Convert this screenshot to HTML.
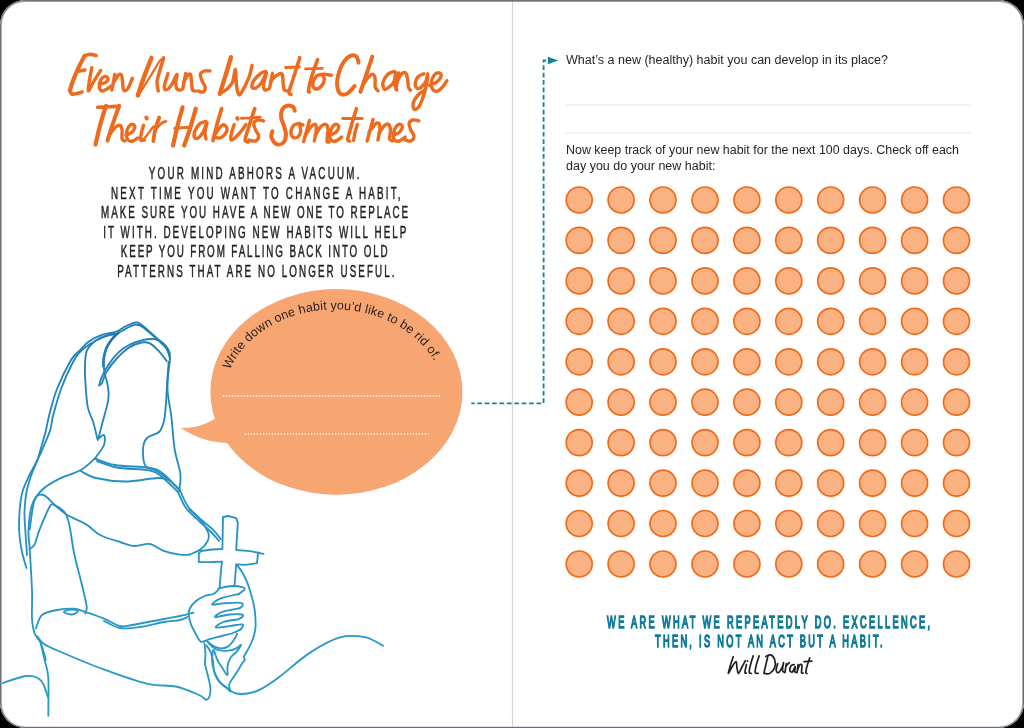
<!DOCTYPE html>
<html><head><meta charset="utf-8">
<style>
html,body{margin:0;padding:0;background:#000;width:1024px;height:728px;overflow:hidden}
#pg{position:absolute;left:0;top:0;width:1024px;height:728px;border-radius:25px;background:#fff;overflow:hidden}
#bd{position:absolute;left:0;top:0;width:1024px;height:728px;border-radius:25px;box-sizing:border-box;border:1px solid #707378;border-right-color:#6e6b73;border-bottom-color:#6e6a72;box-shadow:inset 0 1px 0 0 #9c9ea1,inset 1px 0 0 0 #b9aab7,inset -1px 0 0 0 #b3aab3,inset 0 -1px 0 0 #e2d9e2}
svg{position:absolute;left:0;top:0;will-change:transform}
text{font-family:"Liberation Sans",sans-serif}
</style></head><body>
<div id="pg">
<svg width="1024" height="728" viewBox="0 0 1024 728">
<!-- spine -->
<line x1="512.5" y1="1" x2="512.5" y2="727" stroke="#d6d6d6" stroke-width="1.2"/>

<!-- TITLE -->
<g id="title" fill="none" stroke="#ee6b1e" stroke-linecap="round" stroke-linejoin="round">
<path d="M96.2 55.4 C95.1 55.2 91.4 54.3 89.4 54.4 C87.5 54.5 85.3 55.6 84.5 55.9" stroke-width="3.6"/>
<path d="M84.5 55.9 C83.5 57.8 80.5 63.4 78.6 67.6 C76.6 71.8 74.2 77.5 72.8 81.3 C71.3 85.1 70.4 89.0 69.9 90.5" stroke-width="4.2"/>
<path d="M69.9 91.0 C70.2 91.5 70.7 93.6 71.8 94.0 C72.9 94.4 75.0 93.8 76.7 93.5 C78.4 93.2 81.1 92.2 82.0 92.0" stroke-width="3.6"/>
<path d="M79.6 71.2 L85.0 70.0" stroke-width="3.4"/>
<path d="M91.8 67.6 C91.4 69.7 90.1 76.1 89.5 80.0 C88.9 83.9 87.7 90.8 88.4 91.0 C89.2 91.2 92.0 84.4 94.0 81.0 C96.0 77.6 99.5 72.2 100.6 70.5" stroke-width="3.4"/>
<path d="M100.1 84.2 C101.1 83.9 104.7 83.2 106.0 82.2 C107.3 81.2 108.2 79.3 108.0 78.3 C107.8 77.3 106.2 76.2 105.0 76.4 C103.8 76.6 102.1 77.5 101.1 79.3 C100.1 81.1 99.0 85.1 99.2 87.1 C99.4 89.0 100.8 90.7 102.1 91.0 C103.4 91.3 105.5 89.8 107.0 89.0 C108.5 88.2 110.2 86.6 110.9 86.1" stroke-width="3.4"/>
<path d="M114.8 74.4 L111.9 90.0" stroke-width="3.4"/>
<path d="M113.8 82.2 C114.6 81.0 117.4 75.9 118.7 74.8 C120.0 73.7 120.9 74.2 121.6 75.4 C122.2 76.6 122.3 79.8 122.6 82.2 C122.9 84.6 122.8 88.9 123.6 90.0 C124.4 91.1 126.0 91.0 127.5 89.0 C129.0 87.0 131.6 80.1 132.4 78.3" stroke-width="3.4"/>
<path d="M151.5 57.8 C150.2 61.0 146.3 70.7 144.0 77.0 C141.7 83.3 138.8 92.4 137.8 95.5" stroke-width="4.4"/>
<path d="M140.0 93.0 C141.7 90.3 146.8 82.2 150.0 77.0 C153.2 71.8 157.0 65.0 159.0 62.0 C161.0 59.0 161.5 59.3 162.0 58.8" stroke-width="2.2"/>
<path d="M163.7 57.8 C163.1 59.8 161.1 65.9 160.0 70.0 C158.9 74.1 157.3 78.7 157.0 82.2 C156.7 85.7 158.1 89.5 158.3 91.0" stroke-width="3.4"/>
<path d="M168.0 73.4 C167.4 75.7 164.3 84.4 164.2 87.1 C164.0 89.8 165.8 90.0 167.1 89.5 C168.4 89.0 170.4 86.7 172.0 84.2 C173.6 81.7 176.2 74.7 176.9 74.4 C177.6 74.1 175.9 79.8 175.9 82.2 C175.9 84.6 176.1 87.7 176.9 89.0 C177.7 90.3 180.2 89.8 180.8 90.0" stroke-width="3.4"/>
<path d="M185.7 73.4 L182.7 89.0" stroke-width="3.4"/>
<path d="M183.7 82.2 C184.3 81.1 186.5 76.7 187.6 75.4 C188.7 74.1 189.8 73.4 190.5 74.4 C191.2 75.4 191.2 78.7 191.5 81.3 C191.8 83.9 191.8 88.4 192.5 90.0 C193.2 91.6 194.9 90.8 195.4 91.0" stroke-width="3.4"/>
<path d="M210.0 71.0 C209.0 71.0 205.8 70.4 204.2 71.0 C202.6 71.6 200.6 72.7 200.3 74.4 C200.0 76.1 201.5 79.2 202.3 81.3 C203.1 83.4 205.0 85.3 205.2 87.1 C205.3 88.9 204.3 91.3 203.2 92.0 C202.1 92.7 199.2 91.2 198.4 91.0" stroke-width="3.4"/>
<path d="M231.0 57.2 C230.2 60.0 227.9 67.9 226.0 74.0 C224.1 80.1 220.8 90.5 219.8 93.8" stroke-width="4.4"/>
<path d="M221.0 93.0 C222.0 92.3 225.1 90.8 227.0 89.0 C228.9 87.2 231.1 85.4 232.5 82.1 C233.9 78.8 234.8 69.1 235.4 69.4 C236.1 69.7 235.9 79.9 236.4 84.0 C236.9 88.1 237.5 92.3 238.3 93.8 C239.1 95.3 239.5 95.7 241.3 92.9 C243.1 90.1 247.2 81.8 249.0 77.2 C250.8 72.6 251.5 67.5 252.0 65.5" stroke-width="3.4"/>
<path d="M265.7 71.4 C264.9 71.7 262.8 71.8 260.8 73.3 C258.9 74.8 255.5 77.9 254.0 80.2 C252.5 82.5 251.7 85.7 252.0 87.0 C252.3 88.3 254.3 88.8 255.9 88.0 C257.5 87.2 260.0 84.7 261.8 82.1 C263.6 79.5 266.3 72.0 266.6 72.3 C266.9 72.6 264.0 81.0 263.7 84.0 C263.4 87.0 263.9 89.2 264.7 90.0 C265.5 90.8 268.0 89.2 268.6 89.0" stroke-width="3.4"/>
<path d="M272.5 73.3 L269.6 88.0" stroke-width="3.4"/>
<path d="M270.5 82.0 C271.0 81.3 272.2 79.3 273.5 78.0 C274.8 76.7 276.9 74.9 278.4 74.3 C279.9 73.7 281.5 72.7 282.3 74.3 C283.1 75.9 282.9 81.4 283.2 84.0 C283.5 86.6 283.4 88.8 284.2 89.9 C285.0 91.1 287.5 90.7 288.1 90.9" stroke-width="3.4"/>
<path d="M299.8 57.7 C298.7 61.3 294.8 73.5 293.0 79.2 C291.2 84.9 289.3 89.5 289.0 92.0 C288.7 94.5 290.7 94.1 291.0 94.5" stroke-width="3.6"/>
<path d="M285.5 67.5 L299.5 67.0" stroke-width="2.8"/>
<path d="M317.6 59.6 C316.6 62.4 313.2 71.2 311.7 76.3 C310.2 81.4 308.9 87.4 308.5 90.0 C308.1 92.6 309.3 91.7 309.5 92.0" stroke-width="3.6"/>
<path d="M305.5 68.9 L322.5 68.4" stroke-width="2.8"/>
<path d="M322.5 74.3 C321.5 74.6 318.2 74.4 316.6 76.0 C315.0 77.6 312.9 81.9 312.7 84.1 C312.5 86.3 314.1 88.7 315.6 89.0 C317.1 89.3 320.0 87.6 321.5 86.0 C323.0 84.4 324.2 81.2 324.4 79.2 C324.6 77.2 321.4 75.0 322.5 74.3 C323.6 73.6 329.8 75.1 331.3 75.3" stroke-width="3.4"/>
<path d="M358.6 62.6 C358.3 61.6 357.9 57.9 356.6 56.7 C355.3 55.6 352.9 54.9 350.8 55.7 C348.7 56.5 345.9 58.8 343.9 61.6 C341.9 64.4 340.1 68.5 339.0 72.3 C337.9 76.0 336.9 80.6 337.1 84.1 C337.3 87.6 338.4 91.7 340.0 93.3 C341.6 94.9 344.4 95.0 346.9 93.8 C349.3 92.6 353.4 87.3 354.7 86.0" stroke-width="4.0"/>
<path d="M372.3 56.7 C371.3 59.6 368.4 68.4 366.4 74.3 C364.4 80.2 361.5 89.0 360.5 91.9" stroke-width="4.0"/>
<path d="M363.5 84.1 C364.3 82.9 366.8 78.8 368.4 77.2 C370.0 75.6 372.1 74.0 373.2 74.3 C374.3 74.6 374.9 77.1 375.2 79.2 C375.5 81.3 374.7 85.0 375.2 87.0 C375.7 89.0 377.6 90.2 378.1 90.9" stroke-width="3.4"/>
<path d="M393.8 71.4 C392.8 71.9 389.7 72.5 387.9 74.3 C386.1 76.1 383.6 79.6 383.0 82.1 C382.4 84.5 383.2 88.0 384.0 89.0 C384.8 90.0 386.3 89.2 387.9 88.0 C389.5 86.8 392.5 84.7 393.8 82.1 C395.1 79.5 395.6 72.0 395.7 72.3 C395.8 72.6 394.5 81.2 394.7 84.1 C394.9 87.0 396.4 88.9 396.7 89.9" stroke-width="3.4"/>
<path d="M398.8 72.9 L396.0 89.2" stroke-width="3.4"/>
<path d="M396.9 81.5 C397.7 80.2 400.2 75.2 401.7 73.8 C403.1 72.4 404.6 72.1 405.6 72.9 C406.6 73.7 407.0 76.3 407.5 78.7 C408.0 81.1 408.0 85.4 408.5 87.3 C409.0 89.2 410.1 89.7 410.4 90.2" stroke-width="3.4"/>
<path d="M423.8 73.8 C422.9 74.3 419.5 75.1 418.1 76.7 C416.7 78.3 415.4 81.6 415.2 83.5 C415.0 85.4 416.1 87.7 417.1 88.3 C418.1 88.9 419.6 88.4 421.0 87.3 C422.4 86.2 424.7 83.8 425.8 81.5 C426.9 79.2 427.6 73.5 427.7 73.8 C427.8 74.1 427.3 80.0 426.7 83.5 C426.1 87.0 425.1 91.2 423.8 95.0 C422.5 98.8 420.6 104.1 419.0 106.5 C417.4 108.9 415.1 110.0 414.2 109.4 C413.2 108.8 412.6 105.1 413.3 102.7 C414.0 100.3 416.2 97.1 418.1 95.0 C420.0 92.9 423.7 91.0 424.8 90.2" stroke-width="3.4"/>
<path d="M429.6 85.4 C430.9 84.8 435.4 83.1 437.3 81.5 C439.2 79.9 440.9 77.2 441.2 75.8 C441.5 74.4 440.3 73.1 439.2 72.9 C438.1 72.7 435.7 73.4 434.4 74.8 C433.1 76.2 431.8 79.1 431.5 81.5 C431.2 83.9 431.5 87.6 432.5 89.2 C433.5 90.8 435.5 91.7 437.3 91.2 C439.1 90.7 441.5 88.1 443.1 86.3 C444.7 84.5 446.3 81.5 446.9 80.6" stroke-width="3.4"/>
<path d="M97.7 107.3 C99.7 107.2 105.8 107.0 109.4 106.8 C113.0 106.6 117.6 106.4 119.2 106.3" stroke-width="3.6"/>
<path d="M106.0 105.8 C105.1 108.7 102.3 117.0 100.6 123.4 C98.8 129.8 96.3 141.0 95.5 144.5" stroke-width="4.2"/>
<path d="M119.2 105.8 C118.2 108.6 115.2 116.6 113.3 122.4 C111.3 128.2 108.5 137.5 107.5 140.5" stroke-width="4.0"/>
<path d="M109.4 135.1 C110.4 133.8 113.5 128.9 115.3 127.3 C117.1 125.7 119.1 124.8 120.2 125.3 C121.3 125.8 121.8 127.9 122.1 130.2 C122.4 132.5 121.6 137.2 122.1 139.0 C122.6 140.8 124.5 140.7 125.0 141.0" stroke-width="3.4"/>
<path d="M126.0 135.1 C127.0 134.6 130.4 133.5 131.9 132.2 C133.4 130.9 134.6 128.6 134.8 127.3 C135.0 126.0 133.9 124.6 132.9 124.4 C131.9 124.2 130.1 124.8 129.0 126.3 C127.9 127.8 126.7 130.9 126.5 133.2 C126.3 135.5 126.9 138.7 128.0 140.0 C129.1 141.3 131.3 141.3 132.9 141.0 C134.5 140.7 136.9 138.5 137.7 138.0" stroke-width="3.4"/>
<path d="M143.6 125.3 C143.3 126.4 142.1 129.8 141.6 132.2 C141.1 134.6 140.2 138.7 140.7 140.0 C141.2 141.3 143.9 140.0 144.6 140.0" stroke-width="3.4"/>
<path d="M146.3 117.6 L146.7 118.4" stroke-width="4.0"/>
<path d="M142.5 140.0 C143.1 139.4 144.8 138.0 146.0 136.5 C147.2 135.0 148.8 132.7 150.0 131.0 C151.2 129.3 152.9 127.2 153.5 126.5" stroke-width="2.4"/>
<path d="M159.2 117.5 C158.5 119.5 156.3 125.4 155.3 129.3 C154.3 133.2 153.7 139.1 153.4 141.0" stroke-width="3.8"/>
<path d="M155.3 130.2 C156.3 129.1 159.4 124.9 161.2 123.4 C163.0 121.9 165.2 121.7 166.0 121.4" stroke-width="2.6"/>
<path d="M182.6 107.3 C181.8 110.3 179.3 118.9 177.7 125.3 C176.1 131.7 173.8 142.1 173.0 145.5" stroke-width="4.2"/>
<path d="M195.8 108.7 C194.9 111.8 192.3 121.2 190.4 127.3 C188.5 133.4 185.2 142.5 184.2 145.5" stroke-width="4.2"/>
<path d="M174.8 128.3 L189.4 127.3" stroke-width="3.0"/>
<path d="M206.0 121.4 C205.0 121.7 202.0 121.9 200.2 123.4 C198.4 124.9 196.3 127.9 195.3 130.2 C194.3 132.5 193.8 135.8 194.3 137.1 C194.8 138.4 196.7 138.8 198.2 138.0 C199.7 137.2 201.6 134.8 203.1 132.2 C204.6 129.6 206.7 122.4 207.0 122.4 C207.3 122.4 205.2 129.4 205.0 132.2 C204.8 135.0 205.8 137.9 206.0 139.0" stroke-width="3.4"/>
<path d="M221.6 108.7 C220.8 111.5 218.2 120.0 216.8 125.3 C215.4 130.6 213.6 138.0 213.0 140.5" stroke-width="3.8"/>
<path d="M215.5 133.8 C216.2 132.8 218.2 129.5 219.5 128.0 C220.8 126.5 222.3 124.7 223.6 124.8 C224.9 124.9 226.9 127.0 227.1 128.6 C227.3 130.2 226.0 132.9 224.8 134.5 C223.6 136.1 221.5 137.5 220.0 138.0 C218.5 138.5 216.6 137.6 215.9 137.5" stroke-width="3.4"/>
<path d="M237.3 118.2 L237.6 118.8" stroke-width="4.0"/>
<path d="M234.2 124.5 C233.8 125.7 232.5 129.2 231.9 131.6 C231.3 134.0 230.6 137.3 230.7 138.7 C230.8 140.1 231.3 140.3 232.4 139.8 C233.5 139.3 235.4 137.6 237.2 135.7 C239.0 133.8 241.6 130.5 243.1 128.6 C244.6 126.7 245.5 125.2 246.0 124.5" stroke-width="3.4"/>
<path d="M254.8 108.7 C253.8 111.6 250.6 121.2 249.0 126.3 C247.4 131.4 245.4 136.9 245.2 139.5 C245.0 142.1 247.5 141.6 248.0 142.0" stroke-width="3.6"/>
<path d="M241.3 118.3 C242.9 118.2 247.8 118.0 251.0 117.8 C254.2 117.6 258.7 117.3 260.2 117.2" stroke-width="2.8"/>
<path d="M263.6 121.0 C262.6 120.8 259.3 119.6 257.7 120.0 C256.1 120.4 254.1 121.7 253.8 123.4 C253.5 125.1 254.9 128.1 255.7 130.2 C256.5 132.3 258.7 134.3 258.7 136.1 C258.7 137.9 257.3 140.3 255.7 141.0 C254.1 141.7 250.0 140.2 248.9 140.0" stroke-width="3.4"/>
<path d="M294.8 110.7 C294.5 110.0 294.2 107.6 292.9 106.8 C291.6 106.0 288.8 105.3 287.0 105.8 C285.2 106.3 283.1 107.8 282.1 109.7 C281.1 111.7 280.8 114.7 281.1 117.5 C281.4 120.3 283.3 123.4 284.1 126.3 C284.9 129.2 286.2 132.3 286.0 135.1 C285.8 137.9 284.7 141.4 283.1 142.9 C281.5 144.4 278.2 144.9 276.3 143.9 C274.4 142.9 272.1 139.2 271.4 137.1 C270.7 135.0 272.1 132.2 272.3 131.2" stroke-width="4.0"/>
<path d="M299.7 123.4 C298.7 123.7 295.3 123.8 293.8 125.3 C292.3 126.8 291.0 130.2 290.9 132.2 C290.8 134.2 291.8 136.3 292.9 137.1 C294.0 137.9 296.4 138.1 297.7 137.1 C299.0 136.1 300.4 133.3 300.7 131.2 C301.0 129.1 299.3 125.4 299.7 124.4 C300.1 123.4 302.4 124.9 303.0 125.0" stroke-width="3.4"/>
<path d="M309.5 120.5 L303.6 141.5" stroke-width="3.4"/>
<path d="M305.5 135.1 C306.5 133.6 309.8 128.1 311.4 126.3 C313.0 124.5 314.5 123.8 315.3 124.4 C316.1 125.1 316.5 127.4 316.3 130.2 C316.1 133.0 314.6 139.2 314.3 141.0" stroke-width="3.4"/>
<path d="M315.3 135.1 C316.3 133.6 319.4 128.1 321.2 126.3 C323.0 124.5 325.0 123.8 326.1 124.4 C327.2 125.1 327.9 127.4 328.0 130.2 C328.1 133.0 326.8 139.0 327.0 141.0 C327.2 143.0 328.7 141.8 329.0 142.0" stroke-width="3.4"/>
<path d="M330.0 135.1 C331.0 134.6 334.3 133.5 335.8 132.2 C337.3 130.9 338.6 128.6 338.8 127.3 C339.0 126.0 337.8 124.6 336.8 124.4 C335.8 124.2 334.0 124.8 332.9 126.3 C331.8 127.8 330.3 130.9 330.0 133.2 C329.7 135.5 330.0 138.7 331.0 140.0 C332.0 141.3 334.0 141.5 335.8 141.0 C337.6 140.5 340.7 137.8 341.7 137.1" stroke-width="3.4"/>
<path d="M356.4 108.7 C355.6 111.5 352.9 120.2 351.5 125.3 C350.1 130.3 348.1 136.4 347.8 139.0 C347.5 141.6 349.2 140.7 349.5 141.0" stroke-width="3.6"/>
<path d="M342.7 118.5 L362.2 118.5" stroke-width="2.8"/>
<path d="M357.3 124.4 C356.9 125.9 355.5 130.5 354.9 133.2 C354.3 135.9 353.8 139.3 353.6 140.5" stroke-width="3.4"/>
<path d="M373.0 119.5 L367.1 141.0" stroke-width="3.4"/>
<path d="M369.0 132.2 C370.0 130.9 373.3 125.9 374.9 124.4 C376.5 122.9 378.0 122.4 378.8 123.4 C379.6 124.4 380.0 127.4 379.8 130.2 C379.6 133.0 378.2 138.4 377.9 140.0" stroke-width="3.4"/>
<path d="M378.8 133.2 C379.8 131.9 383.1 126.8 384.7 125.3 C386.3 123.8 387.6 123.6 388.6 124.4 C389.6 125.2 390.3 127.8 390.5 130.2 C390.7 132.6 389.3 137.2 389.6 139.0 C389.9 140.8 392.0 140.7 392.5 141.0" stroke-width="3.4"/>
<path d="M393.5 135.1 C394.5 134.6 397.8 133.5 399.3 132.2 C400.8 130.9 402.1 128.6 402.3 127.3 C402.5 126.0 401.3 124.6 400.3 124.4 C399.3 124.2 397.5 124.8 396.4 126.3 C395.3 127.8 393.8 130.9 393.5 133.2 C393.2 135.5 393.5 138.7 394.5 140.0 C395.5 141.3 397.5 141.5 399.3 141.0 C401.1 140.5 404.2 137.8 405.2 137.1" stroke-width="3.4"/>
<path d="M418.9 121.0 C417.9 120.8 414.6 119.6 413.0 120.0 C411.4 120.4 409.4 121.7 409.1 123.4 C408.8 125.1 410.2 128.1 411.0 130.2 C411.8 132.3 414.0 134.3 414.0 136.1 C414.0 137.9 412.5 140.3 411.0 141.0 C409.5 141.7 406.2 140.2 405.2 140.0" stroke-width="3.4"/>
</g>

<!-- BODY CAPS -->
<g fill="#231f20" stroke="#231f20" stroke-width="0.42" font-size="16.4" transform="translate(1 -0.5)">
<text vector-effect="non-scaling-stroke" transform="translate(147.8 179.8) scale(0.60 1)" x="0" y="0" textLength="351.0" lengthAdjust="spacing">YOUR MIND ABHORS A VACUUM.</text>
<text vector-effect="non-scaling-stroke" transform="translate(110.0 199.2) scale(0.60 1)" x="0" y="0" textLength="482.7" lengthAdjust="spacing">NEXT TIME YOU WANT TO CHANGE A HABIT,</text>
<text vector-effect="non-scaling-stroke" transform="translate(100.1 218.8) scale(0.60 1)" x="0" y="0" textLength="511.8" lengthAdjust="spacing">MAKE SURE YOU HAVE A NEW ONE TO REPLACE</text>
<text vector-effect="non-scaling-stroke" transform="translate(102.2 238.0) scale(0.60 1)" x="0" y="0" textLength="505.2" lengthAdjust="spacing">IT WITH. DEVELOPING NEW HABITS WILL HELP</text>
<text vector-effect="non-scaling-stroke" transform="translate(119.8 257.6) scale(0.60 1)" x="0" y="0" textLength="444.8" lengthAdjust="spacing">KEEP YOU FROM FALLING BACK INTO OLD</text>
<text vector-effect="non-scaling-stroke" transform="translate(116.2 277.0) scale(0.60 1)" x="0" y="0" textLength="462.2" lengthAdjust="spacing">PATTERNS THAT ARE NO LONGER USEFUL.</text>
</g>

<!-- BUBBLE -->
<g>
<ellipse cx="336.4" cy="391.9" rx="126" ry="102.8" fill="#f7a571"/>
<path d="M216 418 C205 425 195 428 181 428 C196 438 212 443 230 443 Z" fill="#f7a571"/>
<line x1="222.8" y1="396.1" x2="440" y2="396.1" stroke="#fff8f2" stroke-width="1.7" stroke-dasharray="1.3 1.7"/>
<line x1="244.8" y1="434" x2="428.5" y2="434" stroke="#fff8f2" stroke-width="1.7" stroke-dasharray="1.3 1.7"/>
<path id="arc" d="M224.02 392.1 A110.7 90.6 0 0 1 444.58 392.1" fill="none"/>
<text font-size="12.5" fill="#231f20" textLength="244.5" lengthAdjust="spacing"><textPath href="#arc" startOffset="23.2">Write down one habit you’d like to be rid of.</textPath></text>
</g>

<!-- CONNECTOR -->
<path d="M546.2 60.5 H543.6 V403.3 H471.3" stroke="#13809e" stroke-width="1.8" fill="none" stroke-dasharray="4.7 2.7"/>
<path d="M547.8 56.8 L558.2 60.5 L547.8 64.2 Z" fill="#13809e"/>

<!-- RIGHT PAGE TEXT -->
<g fill="#231f20" font-size="12.5">
<text x="566" y="63.8" textLength="322" lengthAdjust="spacingAndGlyphs">What’s a new (healthy) habit you can develop in its place?</text>
<text x="566" y="154.2" textLength="393" lengthAdjust="spacingAndGlyphs">Now keep track of your new habit for the next 100 days. Check off each</text>
<text x="566" y="169.6">day you do your new habit:</text>
</g>
<line x1="566" y1="105" x2="971" y2="105" stroke="#e3e3e3" stroke-width="1"/>
<line x1="566" y1="133" x2="971" y2="133" stroke="#e3e3e3" stroke-width="1"/>

<!-- CIRCLES -->
<g id="circles" fill="#fbb283" stroke="#ef6b1a" stroke-width="1.7">
<circle cx="579.2" cy="200.0" r="13"/><circle cx="621.1" cy="200.0" r="13"/><circle cx="663.0" cy="200.0" r="13"/><circle cx="705.0" cy="200.0" r="13"/><circle cx="746.9" cy="200.0" r="13"/><circle cx="788.8" cy="200.0" r="13"/><circle cx="830.7" cy="200.0" r="13"/><circle cx="872.6" cy="200.0" r="13"/><circle cx="914.6" cy="200.0" r="13"/><circle cx="956.5" cy="200.0" r="13"/>
<circle cx="579.2" cy="240.4" r="13"/><circle cx="621.1" cy="240.4" r="13"/><circle cx="663.0" cy="240.4" r="13"/><circle cx="705.0" cy="240.4" r="13"/><circle cx="746.9" cy="240.4" r="13"/><circle cx="788.8" cy="240.4" r="13"/><circle cx="830.7" cy="240.4" r="13"/><circle cx="872.6" cy="240.4" r="13"/><circle cx="914.6" cy="240.4" r="13"/><circle cx="956.5" cy="240.4" r="13"/>
<circle cx="579.2" cy="280.9" r="13"/><circle cx="621.1" cy="280.9" r="13"/><circle cx="663.0" cy="280.9" r="13"/><circle cx="705.0" cy="280.9" r="13"/><circle cx="746.9" cy="280.9" r="13"/><circle cx="788.8" cy="280.9" r="13"/><circle cx="830.7" cy="280.9" r="13"/><circle cx="872.6" cy="280.9" r="13"/><circle cx="914.6" cy="280.9" r="13"/><circle cx="956.5" cy="280.9" r="13"/>
<circle cx="579.2" cy="321.3" r="13"/><circle cx="621.1" cy="321.3" r="13"/><circle cx="663.0" cy="321.3" r="13"/><circle cx="705.0" cy="321.3" r="13"/><circle cx="746.9" cy="321.3" r="13"/><circle cx="788.8" cy="321.3" r="13"/><circle cx="830.7" cy="321.3" r="13"/><circle cx="872.6" cy="321.3" r="13"/><circle cx="914.6" cy="321.3" r="13"/><circle cx="956.5" cy="321.3" r="13"/>
<circle cx="579.2" cy="361.8" r="13"/><circle cx="621.1" cy="361.8" r="13"/><circle cx="663.0" cy="361.8" r="13"/><circle cx="705.0" cy="361.8" r="13"/><circle cx="746.9" cy="361.8" r="13"/><circle cx="788.8" cy="361.8" r="13"/><circle cx="830.7" cy="361.8" r="13"/><circle cx="872.6" cy="361.8" r="13"/><circle cx="914.6" cy="361.8" r="13"/><circle cx="956.5" cy="361.8" r="13"/>
<circle cx="579.2" cy="402.2" r="13"/><circle cx="621.1" cy="402.2" r="13"/><circle cx="663.0" cy="402.2" r="13"/><circle cx="705.0" cy="402.2" r="13"/><circle cx="746.9" cy="402.2" r="13"/><circle cx="788.8" cy="402.2" r="13"/><circle cx="830.7" cy="402.2" r="13"/><circle cx="872.6" cy="402.2" r="13"/><circle cx="914.6" cy="402.2" r="13"/><circle cx="956.5" cy="402.2" r="13"/>
<circle cx="579.2" cy="442.6" r="13"/><circle cx="621.1" cy="442.6" r="13"/><circle cx="663.0" cy="442.6" r="13"/><circle cx="705.0" cy="442.6" r="13"/><circle cx="746.9" cy="442.6" r="13"/><circle cx="788.8" cy="442.6" r="13"/><circle cx="830.7" cy="442.6" r="13"/><circle cx="872.6" cy="442.6" r="13"/><circle cx="914.6" cy="442.6" r="13"/><circle cx="956.5" cy="442.6" r="13"/>
<circle cx="579.2" cy="483.1" r="13"/><circle cx="621.1" cy="483.1" r="13"/><circle cx="663.0" cy="483.1" r="13"/><circle cx="705.0" cy="483.1" r="13"/><circle cx="746.9" cy="483.1" r="13"/><circle cx="788.8" cy="483.1" r="13"/><circle cx="830.7" cy="483.1" r="13"/><circle cx="872.6" cy="483.1" r="13"/><circle cx="914.6" cy="483.1" r="13"/><circle cx="956.5" cy="483.1" r="13"/>
<circle cx="579.2" cy="523.5" r="13"/><circle cx="621.1" cy="523.5" r="13"/><circle cx="663.0" cy="523.5" r="13"/><circle cx="705.0" cy="523.5" r="13"/><circle cx="746.9" cy="523.5" r="13"/><circle cx="788.8" cy="523.5" r="13"/><circle cx="830.7" cy="523.5" r="13"/><circle cx="872.6" cy="523.5" r="13"/><circle cx="914.6" cy="523.5" r="13"/><circle cx="956.5" cy="523.5" r="13"/>
<circle cx="579.2" cy="564.0" r="13"/><circle cx="621.1" cy="564.0" r="13"/><circle cx="663.0" cy="564.0" r="13"/><circle cx="705.0" cy="564.0" r="13"/><circle cx="746.9" cy="564.0" r="13"/><circle cx="788.8" cy="564.0" r="13"/><circle cx="830.7" cy="564.0" r="13"/><circle cx="872.6" cy="564.0" r="13"/><circle cx="914.6" cy="564.0" r="13"/><circle cx="956.5" cy="564.0" r="13"/>
</g>

<!-- QUOTE -->
<g fill="#117b9a" stroke="#117b9a" stroke-width="1.2" font-size="15.9" font-weight="400" transform="translate(1 2.1)">
<text vector-effect="non-scaling-stroke" transform="translate(606.1 625.6) scale(0.58 1)" x="0" y="0" textLength="556.9" lengthAdjust="spacing">WE ARE WHAT WE REPEATEDLY DO. EXCELLENCE,</text>
<text vector-effect="non-scaling-stroke" transform="translate(654.0 645.2) scale(0.58 1)" x="0" y="0" textLength="392.2" lengthAdjust="spacing">THEN, IS NOT AN ACT BUT A HABIT.</text>
</g>
<g fill="none" stroke="#231f20" stroke-width="1.7" stroke-linecap="round" stroke-linejoin="round">
<path d="M733.2 656.8 C732.8 658.1 731.5 661.8 730.7 664.6 C729.9 667.4 728.1 673.0 728.3 673.4 C728.5 673.8 730.7 669.0 732.0 667.0 C733.3 665.0 735.3 661.5 736.1 661.7 C736.9 661.9 736.6 666.0 737.0 668.0 C737.4 670.0 737.8 673.6 738.6 673.4 C739.4 673.2 740.9 669.1 742.0 667.0 C743.1 664.9 744.8 661.8 745.4 660.7"/>
<path d="M746.4 664.6 C746.1 665.9 744.9 671.1 744.9 672.5 C744.9 673.9 746.1 672.9 746.4 673.0"/>
<path d="M753.2 655.9 C752.7 657.5 750.9 662.8 750.3 665.6 C749.6 668.4 749.1 671.2 749.3 672.5 C749.5 673.8 751.0 673.2 751.3 673.4"/>
<path d="M759.1 655.9 C758.6 657.5 756.8 662.8 756.1 665.6 C755.5 668.4 754.9 671.2 755.2 672.5 C755.5 673.8 757.6 673.2 758.1 673.4"/>
<path d="M767.9 655.9 C767.6 657.4 766.6 661.7 765.9 664.6 C765.2 667.5 764.2 671.9 763.9 673.4"/>
<path d="M765.9 656.5 C766.7 656.2 769.3 654.4 770.8 654.9 C772.3 655.4 774.1 657.7 774.7 659.8 C775.4 661.9 775.5 665.3 774.7 667.6 C773.9 669.9 771.4 672.4 769.8 673.4 C768.2 674.4 765.7 673.4 764.9 673.4"/>
<path d="M777.6 663.7 C777.4 664.8 776.0 669.0 776.2 670.5 C776.4 672.0 777.6 673.1 778.6 672.5 C779.6 671.9 781.7 668.2 782.5 666.6 C783.3 665.0 783.5 662.1 783.5 662.7 C783.5 663.4 782.3 668.9 782.5 670.5 C782.7 672.1 784.2 672.2 784.5 672.5"/>
<path d="M786.4 663.7 L784.9 672.5"/>
<path d="M786.2 665.6 L789.3 662.7"/>
<path d="M794.2 664.6 C793.7 664.8 792.0 664.6 791.3 665.6 C790.6 666.6 789.6 669.4 789.8 670.5 C790.0 671.6 791.4 672.6 792.3 672.0 C793.2 671.4 794.8 666.7 795.2 666.6 C795.6 666.5 794.5 670.5 794.7 671.5 C794.9 672.5 796.0 672.3 796.2 672.5"/>
<path d="M798.1 664.6 L797.1 672.5"/>
<path d="M797.6 669.5 C798.0 668.7 799.4 665.2 800.1 664.6 C800.8 664.0 801.8 664.3 802.0 665.6 C802.2 666.9 801.3 671.3 801.5 672.5 C801.7 673.7 802.8 672.9 803.0 673.0"/>
<path d="M809.8 657.8 C809.3 659.3 807.5 664.1 806.9 666.6 C806.2 669.1 805.9 671.4 805.9 672.5 C805.9 673.6 806.8 673.3 807.0 673.5"/>
<path d="M804.0 661.7 L811.8 661.2"/>
<circle cx="747.5" cy="661" r="0.9" fill="#231f20" stroke="none"/>
</g>

<!-- NUN -->
<defs><linearGradient id="ng" gradientUnits="userSpaceOnUse" x1="0" y1="320" x2="0" y2="700"><stop offset="0" stop-color="#1e7db6"/><stop offset="0.45" stop-color="#2690c4"/><stop offset="1" stop-color="#2a9bc9"/></linearGradient></defs>
<g id="nun" fill="none" stroke="url(#ng)" stroke-width="1.85" stroke-linecap="round" stroke-linejoin="round">
<path d="M170.1 359.0 C169.9 357.7 169.7 353.5 169.0 351.3 C168.3 349.1 167.7 348.0 165.7 345.8 C163.7 343.6 159.8 340.7 156.9 338.1 C154.0 335.5 151.0 332.9 148.1 330.4 C145.2 327.9 141.5 324.5 139.3 323.2 C137.1 321.9 137.2 322.2 135.0 322.7 C132.8 323.2 129.3 324.5 126.2 326.0 C123.1 327.5 120.3 330.0 116.3 331.5 C112.3 333.0 106.6 333.2 102.0 334.8 C97.4 336.4 92.5 338.8 88.8 341.4 C85.1 344.0 83.0 347.1 80.0 350.2 C77.0 353.3 74.8 353.5 71.0 360.0 C67.2 366.5 60.7 379.7 57.0 389.0 C53.3 398.3 50.8 409.2 49.0 416.0 C47.2 422.8 47.3 424.7 46.0 430.0 C44.7 435.3 42.5 442.8 41.0 448.0 C39.5 453.2 38.7 456.3 37.0 461.0 C35.3 465.7 32.8 470.8 31.0 476.0 C29.2 481.2 27.6 486.0 26.5 492.0 C25.4 498.0 24.7 505.2 24.5 512.0 C24.3 518.8 25.1 525.8 25.5 533.0 C25.9 540.2 26.8 551.3 27.0 555.0"/>
<path d="M169.5 362.0 C169.5 361.2 170.2 359.3 169.6 357.0 C169.0 354.7 167.9 350.8 166.0 348.0 C164.1 345.2 160.7 342.5 158.0 340.0 C155.3 337.5 152.8 335.3 150.0 333.0 C147.2 330.7 143.5 327.4 141.0 326.0 C138.5 324.6 137.2 324.6 135.0 324.8 C132.8 325.1 130.8 326.1 128.0 327.5 C125.2 328.9 122.0 331.4 118.0 333.0 C114.0 334.6 108.7 335.2 104.0 337.0 C99.3 338.8 94.0 341.5 90.0 344.0 C86.0 346.5 82.8 349.0 80.0 352.0 C77.2 355.0 76.2 355.8 73.0 362.0 C69.8 368.2 64.3 380.0 61.0 389.0 C57.7 398.0 54.8 409.2 53.0 416.0 C51.2 422.8 51.9 424.7 50.2 430.0 C48.5 435.3 45.2 442.8 43.0 448.0 C40.8 453.2 39.3 456.3 37.0 461.0 C34.7 465.7 31.4 470.8 29.0 476.0 C26.6 481.2 24.0 486.0 22.4 492.0 C20.8 498.0 20.0 505.2 19.5 512.0 C19.0 518.8 18.9 526.3 19.3 533.0 C19.7 539.7 20.8 546.2 22.0 552.0 C23.2 557.8 25.8 565.3 26.5 568.0"/>
<path d="M114.0 333.0 C111.7 333.8 103.7 336.2 100.0 338.0 C96.3 339.8 94.2 341.4 92.0 343.6 C89.8 345.8 87.8 347.8 86.6 351.3 C85.4 354.8 85.2 359.6 85.0 364.5 C84.8 369.4 84.8 373.9 85.3 381.0 C85.8 388.1 86.4 400.0 87.7 406.8 C89.0 413.6 91.6 416.5 93.2 422.0 C94.8 427.5 96.9 436.8 97.6 439.7"/>
<path d="M170.0 353.5 C168.9 351.9 166.1 346.0 163.5 343.6 C160.9 341.2 158.4 339.8 154.7 339.2 C151.0 338.6 145.7 339.4 141.5 340.3 C137.3 341.2 133.3 342.7 129.5 344.7 C125.7 346.7 122.0 349.1 118.5 352.4 C115.0 355.7 111.3 360.5 108.6 364.5 C105.8 368.5 103.6 373.0 102.0 376.5 C100.4 380.0 99.7 383.8 99.2 385.3"/>
<path d="M99.2 385.3 C99.7 384.9 100.8 385.2 102.0 383.0 C103.2 380.8 104.0 376.0 106.4 372.0 C108.8 368.0 112.6 363.0 116.3 359.0 C120.0 355.0 124.2 350.8 128.4 348.0 C132.6 345.2 137.8 343.2 141.5 342.5 C145.2 341.8 147.4 342.1 150.3 343.6 C153.2 345.1 156.3 348.4 159.1 351.3 C161.8 354.2 165.5 359.6 166.8 361.2"/>
<path d="M168.7 362.0 C168.4 365.8 167.4 378.2 167.0 385.0 C166.6 391.8 166.5 397.0 166.0 403.0 C165.5 409.0 165.2 416.2 164.0 421.0 C162.8 425.8 161.8 429.2 159.0 432.0 C156.2 434.8 149.7 435.2 147.0 438.0 C144.3 440.8 143.2 444.3 143.0 449.0 C142.8 453.7 143.5 462.5 145.5 466.0 C147.5 469.5 151.1 467.7 155.0 470.0 C158.9 472.3 165.0 476.8 169.0 480.0 C173.0 483.2 177.3 487.5 179.0 489.0"/>
<path d="M169.6 362.0 C169.2 366.5 167.2 379.8 167.5 389.0 C167.8 398.2 170.2 407.0 171.4 417.0 C172.6 427.0 173.1 439.5 174.6 449.0 C176.1 458.5 179.6 467.3 180.4 474.0 C181.2 480.7 179.6 486.5 179.4 489.0"/>
<path d="M95.0 458.5 C98.3 459.6 105.8 463.4 115.0 465.0 C124.2 466.6 141.9 466.5 150.0 468.0 C158.1 469.5 158.5 470.2 163.5 474.0 C168.5 477.8 177.2 488.2 180.0 491.0"/>
<path d="M97.0 461.0 C100.3 462.1 108.2 465.9 117.0 467.5 C125.8 469.1 142.5 468.9 150.0 470.5 C157.5 472.1 157.3 473.4 162.0 477.0 C166.7 480.6 175.3 489.5 178.0 492.0"/>
<path d="M80.8 471.0 C83.3 472.2 88.6 476.2 96.0 478.0 C103.4 479.8 114.7 481.5 125.0 481.5 C135.3 481.5 150.4 478.2 157.7 478.0 C165.0 477.8 167.1 479.7 169.0 480.0"/>
<path d="M98.0 439.0 C99.0 438.3 103.0 434.0 104.0 435.0 C105.0 436.0 105.5 441.1 104.0 445.0 C102.5 448.9 96.5 456.2 95.0 458.5"/>
<path d="M95.0 458.5 C92.6 460.4 87.0 466.5 80.8 470.0 C74.6 473.5 64.2 476.3 57.7 479.6 C51.2 482.9 46.3 485.8 42.0 490.0 C37.7 494.2 34.2 498.4 32.0 505.0 C29.8 511.6 28.9 522.2 28.5 529.5 C28.1 536.8 29.1 538.8 29.7 549.0 C30.3 559.2 31.6 579.4 32.0 591.0 C32.4 602.6 31.6 611.5 32.0 618.6 C32.5 625.7 33.2 629.4 34.7 633.5 C36.2 637.6 38.9 639.0 40.8 643.4 C42.6 647.8 45.0 657.2 45.8 660.0"/>
<path d="M29.7 549.0 C30.5 548.2 33.1 547.6 34.7 544.4 C36.4 541.1 37.1 535.7 39.6 529.5 C42.1 523.3 47.2 511.1 49.5 507.0 C51.8 502.9 50.7 503.9 53.2 504.7 C55.7 505.5 61.7 508.7 64.4 512.0 C67.1 515.3 67.7 517.6 69.3 524.6 C70.9 531.6 72.2 544.4 74.3 554.3 C76.4 564.2 79.7 575.4 81.7 584.0 C83.8 592.6 86.0 601.0 86.6 606.0 C87.2 611.0 85.6 612.4 85.4 613.7"/>
<path d="M29.7 529.5 C30.5 524.5 32.4 505.6 34.7 499.8 C37.0 494.1 40.0 494.2 43.3 495.0 C46.6 495.8 50.6 501.4 54.5 504.7 C58.4 508.0 61.4 511.4 66.8 514.7 C72.1 518.0 81.1 521.2 86.6 524.6 C92.1 528.0 94.4 532.1 100.0 535.0 C105.6 537.9 114.2 540.2 120.0 542.0 C125.8 543.8 129.6 545.7 134.6 546.0 C139.6 546.3 145.2 543.2 150.0 544.0 C154.8 544.8 158.5 549.0 163.5 550.8 C168.5 552.6 175.6 554.0 180.0 554.6 C184.4 555.2 188.3 554.5 190.0 554.5"/>
<path d="M179.4 489.0 C180.8 491.9 184.3 501.3 188.0 506.5 C191.7 511.7 197.3 516.1 201.5 520.0 C205.7 523.9 209.8 526.4 213.0 529.6 C216.2 532.8 219.5 537.6 220.8 539.2"/>
<path d="M178.0 492.0 C179.3 494.7 182.5 503.2 186.0 508.0 C189.5 512.8 194.8 517.0 199.0 521.0 C203.2 525.0 207.7 528.7 211.0 532.0 C214.3 535.3 217.7 539.5 219.0 541.0"/>
<path d="M35.9 628.5 C36.9 626.2 38.5 618.1 42.0 615.0 C45.5 611.9 51.6 611.0 57.0 610.0 C62.4 609.0 69.4 608.3 74.3 608.7 C79.2 609.1 81.6 610.8 86.6 612.4 C91.5 614.0 98.4 616.3 104.0 618.6 C109.6 620.9 115.3 624.9 120.0 626.0 C124.7 627.1 124.7 626.2 132.0 625.0 C139.3 623.8 156.0 620.5 164.0 619.0 C172.0 617.5 175.1 617.1 180.0 616.0 C184.9 614.9 191.3 613.2 193.6 612.6"/>
<path d="M104.0 621.0 C106.7 622.2 114.0 627.0 120.0 628.0 C126.0 629.0 132.7 628.0 140.0 627.0 C147.3 626.0 157.3 623.2 164.0 622.0 C170.7 620.8 176.1 620.8 180.0 620.0 C183.9 619.2 186.2 617.5 187.4 617.0"/>
<path d="M37.0 636.0 C38.0 637.2 39.7 640.9 43.3 643.4 C46.9 645.9 48.7 646.7 58.6 651.0 C68.5 655.3 87.8 663.6 102.5 669.0 C117.2 674.4 134.3 680.7 146.5 683.6 C158.7 686.5 167.1 684.6 175.8 686.5 C184.6 688.4 193.8 692.8 199.0 695.0 C204.2 697.2 205.1 700.5 207.0 699.7 C208.9 698.9 210.3 694.0 210.5 690.0 C210.7 686.0 208.9 680.3 208.0 676.0 C207.1 671.7 205.4 667.7 205.0 664.0 C204.6 660.3 205.6 657.4 205.5 654.0 C205.4 650.6 204.6 645.2 204.4 643.5"/>
<path d="M40.8 643.4 C41.4 646.2 43.4 654.3 44.6 660.0 C45.9 665.7 47.7 668.4 48.3 677.7 C48.9 687.0 48.3 709.4 48.3 715.8"/>
<path d="M1.5 683.6 C5.6 682.3 19.8 676.5 26.4 676.0 C33.0 675.5 37.4 676.9 41.0 680.6 C44.6 684.3 47.1 695.1 48.3 698.0"/>
<path d="M230.4 690.6 C231.4 691.1 233.3 693.0 236.2 693.5 C239.1 694.0 243.7 694.1 247.7 693.5 C251.7 692.9 254.9 692.2 260.0 689.6 C265.1 687.0 269.9 683.9 278.3 677.7 C286.7 671.5 300.1 659.1 310.5 652.4 C320.9 645.6 331.6 639.7 340.7 637.2 C349.8 634.7 357.9 635.8 365.0 637.2 C372.1 638.6 380.0 644.3 383.0 645.7"/>
<path d="M64.0 611.5 C65.0 611.2 67.7 609.6 70.0 609.5 C72.3 609.4 77.7 610.2 78.0 611.0 C78.3 611.8 74.2 614.2 72.0 614.5 C69.8 614.8 66.3 613.5 65.0 613.0 C63.7 612.5 64.2 611.8 64.0 611.5"/>
<path d="M237.3 565.4 C238.2 566.7 240.9 569.8 242.7 573.1 C244.5 576.4 246.3 579.4 248.2 585.0 C250.1 590.6 253.0 600.6 254.2 607.0 C255.4 613.4 255.5 619.0 255.6 623.2 C255.7 627.4 255.5 628.8 254.8 632.0 C254.1 635.2 253.0 639.0 251.5 642.5 C250.0 646.0 247.3 650.6 246.0 653.0 C244.7 655.4 244.0 655.8 243.8 656.9 C243.6 658.0 245.1 658.7 244.8 659.8 C244.5 660.9 243.3 661.5 241.9 663.7 C240.5 666.0 238.3 669.9 236.2 673.3 C234.1 676.6 230.4 680.9 229.4 683.8 C228.4 686.7 230.2 689.5 230.4 690.6"/>
<path d="M190.0 554.5 C191.8 553.6 198.1 551.2 201.0 549.0 C203.9 546.8 206.3 543.7 207.6 541.3 C208.9 538.9 209.1 537.1 208.7 534.7 C208.3 532.3 207.1 529.8 205.4 527.0 C203.8 524.2 201.4 521.0 198.8 518.2 C196.2 515.4 191.5 511.4 190.0 510.0"/>
<path d="M218.3 588.5 C220.6 588.1 227.9 586.2 232.0 586.0 C236.1 585.8 240.9 586.7 243.0 587.3 C245.1 587.9 244.9 588.8 244.3 589.8 C243.7 590.8 240.1 592.9 239.3 593.5"/>
<path d="M218.3 589.8 C217.5 590.5 215.7 593.0 213.4 594.0 C211.1 595.0 207.6 594.8 204.7 596.0 C201.8 597.2 198.5 599.0 196.0 601.0 C193.5 603.0 191.1 606.0 189.9 608.3 C188.7 610.5 188.5 611.8 188.7 614.5 C188.9 617.2 189.8 621.1 191.0 624.4 C192.2 627.7 194.3 631.4 196.0 634.3 C197.7 637.2 198.7 640.9 201.0 641.7 C203.3 642.5 206.0 640.2 209.7 639.2 C213.4 638.2 219.4 636.5 223.3 635.5 C227.2 634.5 230.3 634.0 233.2 633.0 C236.1 632.0 239.4 629.9 240.6 629.3"/>
<path d="M239.3 594.0 C236.2 594.7 225.4 596.6 220.8 598.4 C216.2 600.2 211.6 603.8 212.0 604.6 C212.4 605.4 218.5 603.7 223.3 603.4 C228.1 603.1 237.4 602.4 240.6 602.8 C243.8 603.2 242.6 604.9 242.4 605.8 C242.2 606.7 239.8 607.9 239.3 608.3"/>
<path d="M239.3 608.3 C236.4 608.9 226.0 610.5 222.0 612.0 C218.0 613.5 214.0 616.6 215.2 617.0 C216.4 617.4 225.0 614.9 229.4 614.5 C233.8 614.1 239.6 614.1 241.8 614.5 C244.0 614.9 243.0 616.2 242.4 617.0 C241.8 617.8 238.7 619.0 238.0 619.4"/>
<path d="M238.0 619.4 C235.6 619.8 227.0 620.6 223.3 622.0 C219.6 623.4 214.8 626.8 215.8 627.5 C216.8 628.2 225.0 626.7 229.4 626.2 C233.8 625.7 240.4 624.0 242.4 624.4 C244.4 624.8 241.8 627.7 241.5 628.5 C241.2 629.3 240.8 629.2 240.6 629.3"/>
<path d="M207.3 641.5 C208.4 642.3 211.6 645.2 214.0 646.3 C216.4 647.4 219.3 648.3 221.7 648.3 C224.1 648.3 226.4 647.8 228.5 646.3 C230.6 644.8 232.8 641.7 234.2 639.6 C235.6 637.5 236.6 634.8 237.1 633.8"/>
<path d="M208.3 642.5 C209.1 643.3 211.2 646.0 213.0 647.3 C214.8 648.6 216.2 649.6 218.8 650.2 C221.4 650.8 225.6 651.0 228.5 650.7 C231.4 650.4 234.1 649.3 236.2 648.3 C238.3 647.3 241.0 644.3 241.0 644.9 C241.0 645.5 238.0 649.9 236.2 652.1 C234.4 654.3 231.8 655.5 230.4 657.9 C229.0 660.3 228.0 663.6 227.5 666.5 C227.0 669.4 228.3 674.9 227.5 675.2 C226.7 675.5 224.5 671.2 222.7 668.5 C220.9 665.8 218.3 661.8 216.9 658.8 C215.5 655.8 214.5 651.6 214.0 650.2"/>
<path d="M206.3 645.4 C207.0 646.4 209.1 648.6 210.2 651.2 C211.3 653.8 212.4 657.4 213.0 660.8 C213.6 664.1 213.2 668.1 214.0 671.3 C214.8 674.5 216.3 677.6 217.9 680.0 C219.5 682.4 221.9 684.3 223.7 685.8 C225.5 687.2 227.7 688.2 228.5 688.7"/>
<path d="M213.0 650.2 C212.8 652.1 211.8 657.9 212.1 661.7 C212.4 665.6 213.7 669.9 215.0 673.3 C216.3 676.7 217.9 679.5 219.8 681.9 C221.7 684.3 224.7 686.1 226.5 687.7 C228.3 689.3 229.8 690.9 230.4 691.5"/>
<path d="M221.9 561.6 L212.0 562.0 L198.8 562.1 L198.8 553.4 L201.0 551.0 L212.0 549.5 L222.4 549.0 L223.0 517.0 L228.0 516.0 L236.2 518.2 L237.8 522.6 L236.2 550.0 L250.4 551.2 L263.6 553.9"/>
<path d="M258.1 552.3 L257.0 563.2 L245.0 564.9 L236.2 564.3 L234.5 586.0"/>
<path d="M221.9 561.6 L219.7 585.0 L220.2 588.0"/>
<path stroke-width="2.6" stroke="#1a70a8" d="M118.5 332.6 C117.4 333.7 113.9 336.6 111.9 339.2 C109.9 341.8 107.8 344.9 106.4 348.0 C105.1 351.1 104.3 355.0 103.8 358.0 C103.3 361.0 103.5 364.7 103.4 366.0"/>
<path d="M106.4 348.0 C105.9 349.8 104.1 356.2 103.6 359.0 C103.1 361.8 103.4 362.5 103.6 365.0 C103.8 367.5 104.2 371.1 104.7 373.8 C105.2 376.6 106.2 378.4 106.9 381.5 C107.6 384.6 108.4 389.2 108.6 392.5 C108.8 395.8 108.5 398.0 108.0 401.3 C107.5 404.6 106.3 408.5 105.3 412.3 C104.3 416.1 103.2 419.7 102.0 424.3 C100.8 428.9 98.8 437.1 98.1 439.7"/>
</g>
</svg>
</div>
<div id="bd"></div>
</body></html>
